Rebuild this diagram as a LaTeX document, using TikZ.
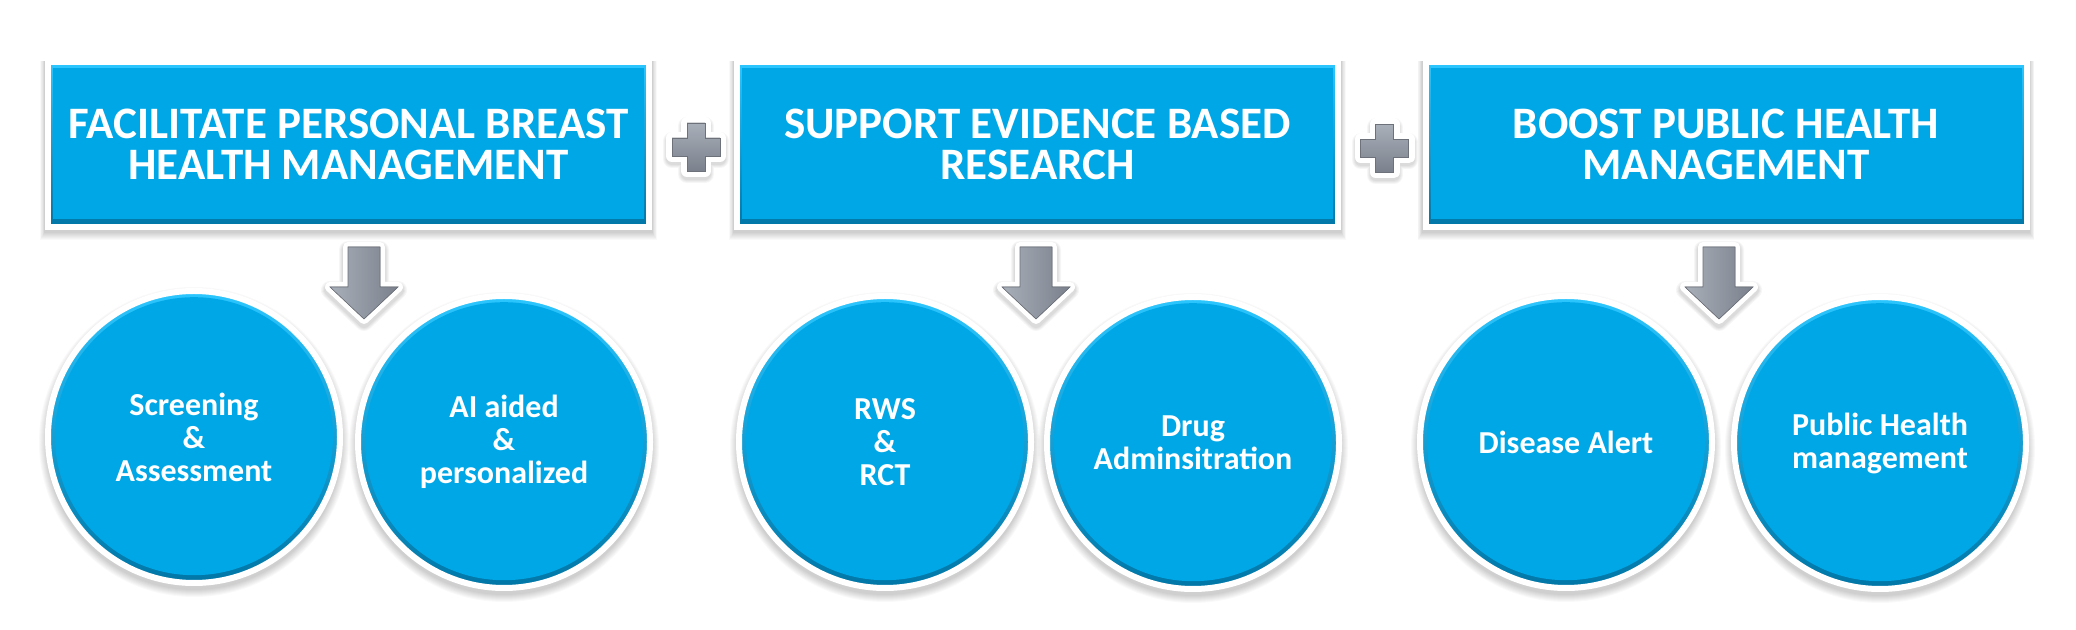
\documentclass[tikz,border=0pt]{standalone}
\usepackage{fontspec}
\setmainfont{Carlito}
\usetikzlibrary{calc,backgrounds}
\definecolor{boxblue}{HTML}{00A7E6}
\definecolor{rimlight}{HTML}{2CC6FF}
\definecolor{rimdark}{HTML}{0076A6}
\definecolor{arrowlight}{HTML}{A9AFB9}
\definecolor{arrowdark}{HTML}{7B818C}
\definecolor{arrowedge}{HTML}{6C717A}
\tikzset{
  topbox/.style={rectangle, draw=white, line width=6pt, fill=boxblue,
    minimum width=601pt, minimum height=165pt, inner sep=0pt, text=white,
    align=center, font=\bfseries\fontsize{45}{41}\selectfont,
    path picture={
      \shade[top color=rimlight, bottom color=rimdark]
        (path picture bounding box.south west) rectangle (path picture bounding box.north east);
      \fill[boxblue] ($(path picture bounding box.south west)+(5,8)$)
        rectangle ($(path picture bounding box.north east)+(-5,-6)$);
    }},
  bubble/.style={circle, draw=white, line width=6pt, fill=boxblue,
    minimum size=292pt, inner sep=0pt, text=white, align=center,
    font=\bfseries\fontsize{32}{33}\selectfont,
    path picture={
      \shade[top color=rimlight, bottom color=rimdark]
        (path picture bounding box.center) circle (146pt);
      \fill[boxblue] ($(path picture bounding box.center)+(0,0.8)$) circle (139pt);
    }},
  downarrow/.pic={
    \foreach \i in {1,...,4}
      \draw[black, opacity=0.035, line width={(10+2*\i)*1pt}, line join=round]
        (-16,-3) -- (16,-3) -- (16,-43) -- (34,-43) -- (0,-75) -- (-34,-43) -- (-16,-43) -- cycle;
    \draw[white, line width=10pt, line join=round]
      (-16,0) -- (16,0) -- (16,-40) -- (34,-40) -- (0,-72) -- (-34,-40) -- (-16,-40) -- cycle;
    \fill[left color=arrowlight, right color=arrowdark]
      (-16,0) -- (16,0) -- (16,-40) -- (34,-40) -- (0,-72) -- (-34,-40) -- (-16,-40) -- cycle;
    \draw[arrowedge, line width=0.6pt, line join=miter]
      (-16,0) -- (16,0) -- (16,-40) -- (34,-40) -- (0,-72) -- (-34,-40) -- (-16,-40) -- cycle;
  },
  plussign/.pic={
    \foreach \i in {1,...,4}
      \draw[black, opacity=0.035, line width={(10+2*\i)*1pt}, line join=round]
        (-9,21) -- (9,21) -- (9,6) -- (24,6) -- (24,-12) -- (9,-12) -- (9,-27) -- (-9,-27) -- (-9,-12) -- (-24,-12) -- (-24,6) -- (-9,6) -- cycle;
    \draw[white, line width=12pt, line join=round]
      (-9,24) -- (9,24) -- (9,9) -- (24,9) -- (24,-9) -- (9,-9) -- (9,-24) -- (-9,-24) -- (-9,-9) -- (-24,-9) -- (-24,9) -- (-9,9) -- cycle;
    \fill[top color=arrowlight, bottom color=arrowdark]
      (-9,24) -- (9,24) -- (9,9) -- (24,9) -- (24,-9) -- (9,-9) -- (9,-24) -- (-9,-24) -- (-9,-9) -- (-24,-9) -- (-24,9) -- (-9,9) -- cycle;
    \draw[arrowedge, line width=0.6pt]
      (-9,24) -- (9,24) -- (9,9) -- (24,9) -- (24,-9) -- (9,-9) -- (9,-24) -- (-9,-24) -- (-9,-9) -- (-24,-9) -- (-24,9) -- (-9,9) -- cycle;
  }
}
\begin{document}
\begin{tikzpicture}[x=1pt, y=1pt]
\useasboundingbox (0,0) rectangle (2076,629);

% top boxes
\node[topbox] (b1) at (348.5,484.5) {FACILITATE PERSONAL BREAST\\HEALTH MANAGEMENT};
\node[topbox] (b2) at (1037.5,484.5) {SUPPORT EVIDENCE BASED\\RESEARCH};
\node[topbox] (b3) at (1726,484.5) {BOOST PUBLIC HEALTH\\MANAGEMENT};

% circles
\node[bubble] (c1) at (194,192) {Screening\\\&\\Assessment};
\node[bubble] (c2) at (504,187) {AI aided\\\&\\personalized};
\node[bubble] (c3) at (885,187) {RWS\\\&\\RCT};
\node[bubble] (c4) at (1193,186) {Drug\\Adminsitration};
\node[bubble] (c5) at (1566,187) {Disease Alert};
\node[bubble] (c6) at (1880,186) {Public Health\\management};

% plus signs between boxes
\coordinate (p1) at ($(b1.east)!0.5!(b2.west)+(3,-2.5)$);
\coordinate (p2) at ($(b2.east)!0.5!(b3.west)+(3,-4)$);
\pic at (p1) {plussign};
\pic at (p2) {plussign};

% block arrows below boxes
\coordinate (a1) at ($(b1.south)+(15.5,-17)$);
\coordinate (a2) at ($(b2.south)+(-1.5,-17)$);
\coordinate (a3) at ($(b3.south)+(-7,-17)$);
\pic at (a1) {downarrow};
\pic at (a2) {downarrow};
\pic at (a3) {downarrow};

\begin{scope}[on background layer]
  \fill[white] (0,0) rectangle (2076,629);
  \foreach \n in {b1,b2,b3}{
    \foreach \i in {1,...,8}{
      \fill[black, opacity=0.025] ($(\n.south west)+(-\i*0.6,-2-\i)$)
        rectangle ($(\n.north east)+(\i*0.6,-2)$);
    }
  }
  \foreach \n in {c1,c2,c3,c4,c5,c6}{
    \foreach \i in {1,...,8}{
      \fill[black, opacity=0.025] ($(\n.center)+(0,-5)$) circle ({(147+\i)*1pt});
    }
  }
\end{scope}
\end{tikzpicture}
\end{document}
